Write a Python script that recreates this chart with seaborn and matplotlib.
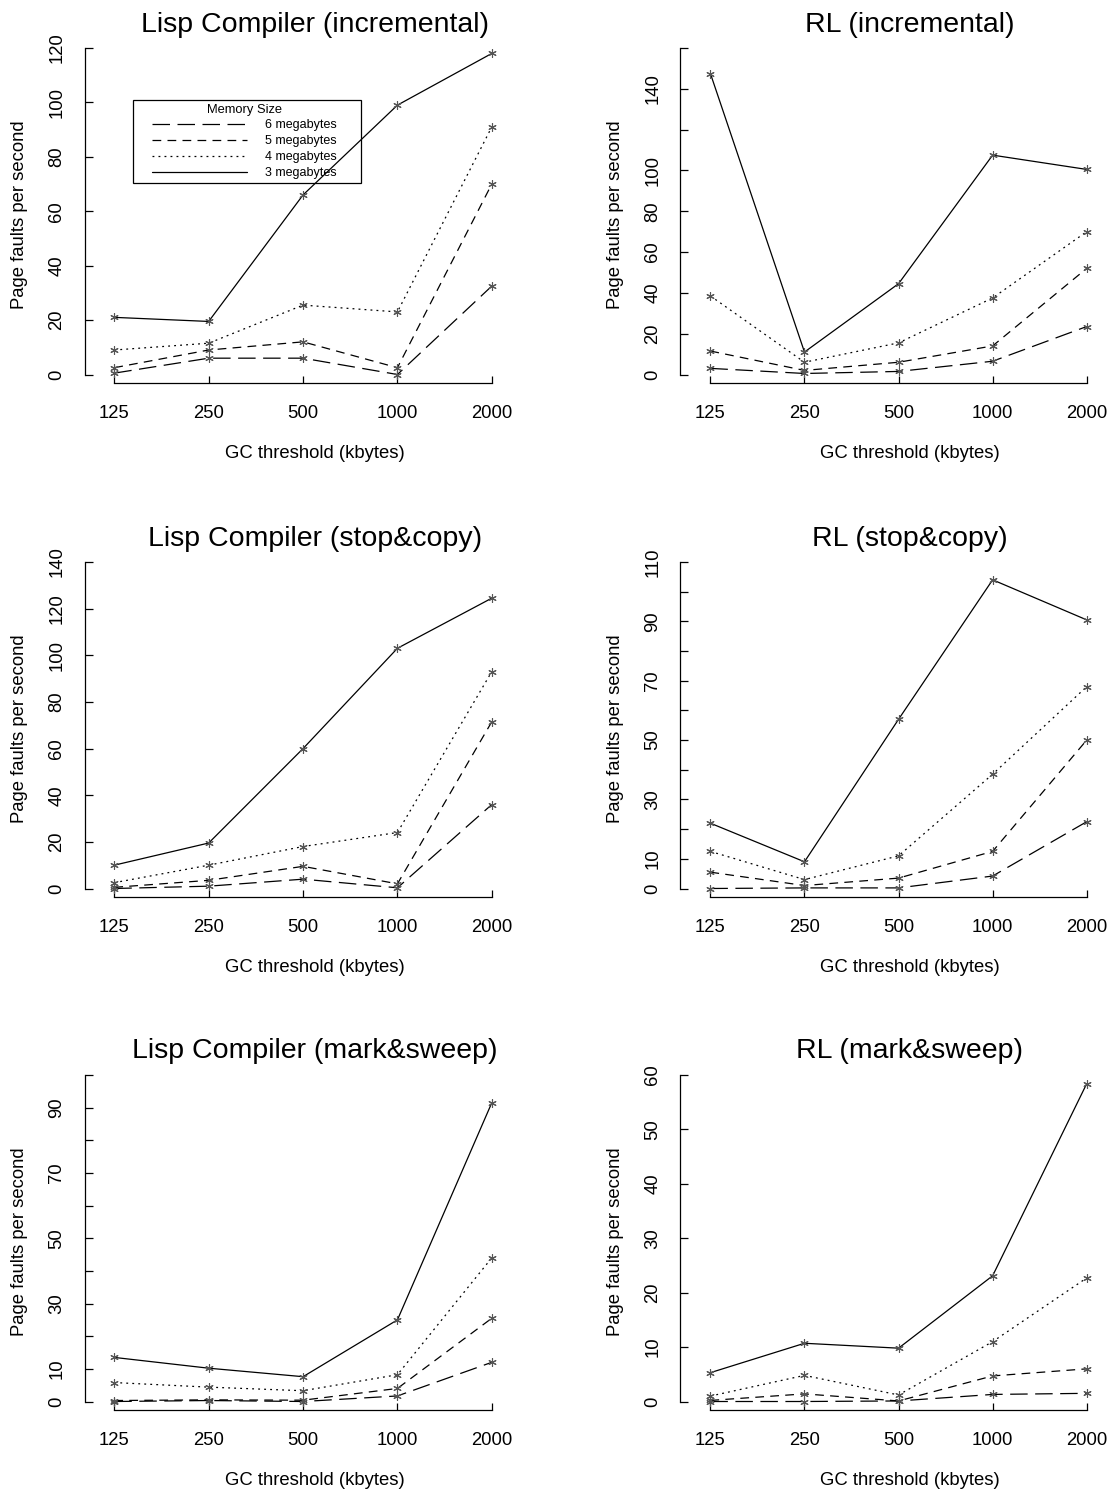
import numpy as np
import pandas as pd
import matplotlib
matplotlib.use("Agg")
import matplotlib.pyplot as plt
from matplotlib.lines import Line2D
from matplotlib.patches import Rectangle
from matplotlib.ticker import NullLocator
import seaborn as sns

sns.set_style("white")
plt.rcParams["font.family"] = ["Liberation Sans", "DejaVu Sans"]
plt.rcParams.update({"text.color": "black", "axes.labelcolor": "black",
                     "xtick.color": "black", "ytick.color": "black"})

# GC thresholds (kbytes) and memory sizes
thresholds = [125, 250, 500, 1000, 2000]
threshold_labels = ["125", "250", "500", "1000", "2000"]
memory_sizes = ["6 megabytes", "5 megabytes", "4 megabytes", "3 megabytes"]

# Page faults per second, one list per memory size (6, 5, 4, 3 MB)
lisp_incremental_6 = [0.5, 6, 6, 0, 32.5]
lisp_incremental_5 = [2.5, 9, 12, 2.5, 70]
lisp_incremental_4 = [9, 11.5, 25.5, 23, 91]
lisp_incremental_3 = [21, 19.5, 66, 99, 118]

rl_incremental_6 = [3, 0.5, 1.5, 6.5, 23.5]
rl_incremental_5 = [11.5, 2, 6, 14, 52]
rl_incremental_4 = [38.5, 6, 15.5, 37.5, 70]
rl_incremental_3 = [147.5, 11, 44.5, 107.5, 100.5]

lisp_stopcopy_6 = [0, 1, 4, 0.3, 36]
lisp_stopcopy_5 = [0.5, 3.5, 9.5, 2, 71.5]
lisp_stopcopy_4 = [2.5, 10, 18, 24, 93]
lisp_stopcopy_3 = [10, 19.5, 60, 103, 124.5]

rl_stopcopy_6 = [0, 0.2, 0.2, 4.2, 22.5]
rl_stopcopy_5 = [5.5, 1, 3.5, 12.5, 50]
rl_stopcopy_4 = [12.5, 3, 11, 38.5, 68]
rl_stopcopy_3 = [22, 9, 57, 104, 90.5]

lisp_marksweep_6 = [0, 0.3, 0, 1.7, 12]
lisp_marksweep_5 = [0.3, 0.5, 0.4, 4, 25.5]
lisp_marksweep_4 = [5.8, 4.4, 3.3, 8.2, 44]
lisp_marksweep_3 = [13.5, 10.2, 7.6, 25, 91.5]

rl_marksweep_6 = [0, 0, 0.1, 1.3, 1.5]
rl_marksweep_5 = [0.2, 1.4, 0.1, 4.7, 6]
rl_marksweep_4 = [1, 4.8, 1.2, 11, 22.7]
rl_marksweep_3 = [5.3, 10.7, 9.8, 23.1, 58.4]

titles = ["Lisp Compiler (incremental)", "RL (incremental)",
          "Lisp Compiler (stop&copy)", "RL (stop&copy)",
          "Lisp Compiler (mark&sweep)", "RL (mark&sweep)"]

series = [
    [lisp_incremental_6, lisp_incremental_5, lisp_incremental_4, lisp_incremental_3],
    [rl_incremental_6, rl_incremental_5, rl_incremental_4, rl_incremental_3],
    [lisp_stopcopy_6, lisp_stopcopy_5, lisp_stopcopy_4, lisp_stopcopy_3],
    [rl_stopcopy_6, rl_stopcopy_5, rl_stopcopy_4, rl_stopcopy_3],
    [lisp_marksweep_6, lisp_marksweep_5, lisp_marksweep_4, lisp_marksweep_3],
    [rl_marksweep_6, rl_marksweep_5, rl_marksweep_4, rl_marksweep_3],
]

# y ticks and which of them carry a label
y_ticks = [list(range(0, 121, 20)), list(range(0, 161, 20)),
           list(range(0, 141, 20)), list(range(0, 111, 10)),
           list(range(0, 101, 10)), list(range(0, 61, 10))]
y_labeled = [list(range(0, 121, 20)), [0, 20, 40, 60, 80, 100, 140],
             list(range(0, 141, 20)), [0, 10, 30, 50, 70, 90, 110],
             [0, 10, 30, 50, 70, 90], list(range(0, 61, 10))]

# line styles (dash patterns in linewidth units)
dash_map = {"6 megabytes": (14, 6), "5 megabytes": (7, 5),
            "4 megabytes": (1.5, 3.3), "3 megabytes": ""}
marker_map = {m: (6, 2, 0) for m in memory_sizes}

W, H = 1115, 1493
fig = plt.figure(figsize=(W / 100, H / 100), dpi=100)
fig.patch.set_facecolor("white")

FS = 13.3
col_yaxis = [84.5, 680.4]
col_x125 = [114.3, 710.4]
col_x2000 = [491.8, 1086.7]
col_center = [315.0, 910.0]
row_off = [0, 514, 1027]


def add_px_axes(l, r, t, b):
    return fig.add_axes([l / W, 1 - b / H, (r - l) / W, (b - t) / H])


for i in range(6):
    r, c = divmod(i, 2)
    off = row_off[r]
    L = col_yaxis[c]
    R = 2 * col_center[c] - L
    top_px = off + 30
    bot_px = off + 382.5
    y0_px = off + 374.5
    ytop_px = off + 48
    ax = add_px_axes(L, R, top_px, bot_px)

    df = pd.DataFrame({
        "threshold": np.tile(thresholds, 4),
        "faults": np.concatenate(series[i]),
        "memory": np.repeat(memory_sizes, len(thresholds)),
    })
    sns.lineplot(data=df, x="threshold", y="faults", style="memory",
                 style_order=memory_sizes, dashes=dash_map, markers=marker_map,
                 color="black", linewidth=0.9, markersize=6,
                 markeredgecolor="#555555", markeredgewidth=0.8,
                 estimator=None, legend=False, ax=ax)

    # x: log2 scale so the thresholds are evenly spaced
    ax.set_xscale("log", base=2)
    ppu = (col_x2000[c] - col_x125[c]) / 4
    u125 = np.log2(125)
    ax.set_xlim(2 ** (u125 - (col_x125[c] - L) / ppu),
                2 ** (u125 + (R - col_x125[c]) / ppu))
    ax.xaxis.set_minor_locator(NullLocator())
    ax.set_xticks(thresholds, threshold_labels)

    T = y_ticks[i][-1]
    ppv = (y0_px - ytop_px) / T
    ax.set_ylim(-(bot_px - y0_px) / ppv, (y0_px - top_px) / ppv)
    ylabels = [str(v) if v in y_labeled[i] else "" for v in y_ticks[i]]
    ax.set_yticks(y_ticks[i], ylabels, rotation=90, va="center")

    for s in ["top", "right"]:
        ax.spines[s].set_visible(False)
    ax.spines["left"].set_bounds(0, T)
    ax.spines["bottom"].set_bounds(125, 2000)
    for s in ["left", "bottom"]:
        ax.spines[s].set_linewidth(0.9)
        ax.spines[s].set_color("black")
    ax.tick_params(axis="both", which="major", direction="in", length=5.4,
                   width=0.9, colors="black", labelsize=FS,
                   left=True, bottom=True, top=False, right=False)
    ax.tick_params(axis="x", pad=16)
    ax.tick_params(axis="y", pad=13.7)

    h_px = bot_px - top_px
    w_px = R - L
    ax.set_title(titles[i], fontsize=20.5, y=(bot_px - (off + 24.5)) / h_px,
                 va="center", pad=0, color="black")
    ax.set_xlabel("GC threshold (kbytes)", fontsize=FS, va="center")
    ax.xaxis.set_label_coords(0.5, (bot_px - (off + 453.5)) / h_px)
    ylab_x = [19.6, 615.0][c]
    ax.set_ylabel("Page faults per second", fontsize=FS, va="center")
    ax.yaxis.set_label_coords((ylab_x - L) / w_px, (bot_px - (off + 215)) / h_px)

    if i == 0:
        handles = [Line2D([], [], color="black", linewidth=0.9,
                          dashes=dash_map[m] if dash_map[m] else (None, None))
                   for m in memory_sizes]
        ax.legend(handles, memory_sizes, title="Memory Size",
                  loc="upper left", bbox_to_anchor=(152 / W, 1 - 103.5 / H),
                  bbox_transform=fig.transFigure, frameon=False,
                  borderpad=0, borderaxespad=0, handlelength=7.6,
                  handletextpad=1.44, labelspacing=0.31,
                  fontsize=9, title_fontsize=9.3)
        fig.add_artist(Rectangle((133.3 / W, 1 - 183.3 / H),
                                 (361 - 133.3) / W, (183.3 - 100) / H,
                                 transform=fig.transFigure, fill=False,
                                 edgecolor="black", linewidth=0.9))

fig.savefig("out.png", dpi=100)
